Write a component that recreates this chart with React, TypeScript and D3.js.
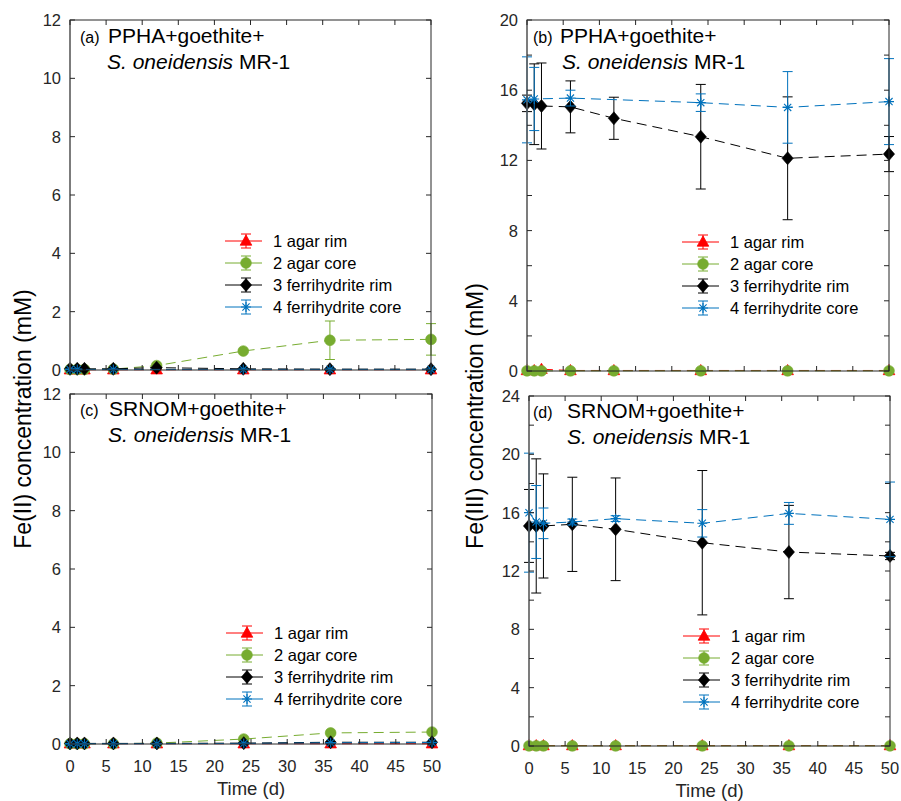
import React from "react";
import * as d3 from "d3";

// sampling days
const days = [0, 1, 2, 6, 12, 24, 36, 50];
const seriesNames = ["1 agar rim", "2 agar core", "3 ferrihydrite rim", "4 ferrihydrite core"];
const seriesColors = ["#ff0000", "#77ac30", "#000000", "#0072bd"];
const xTicks = [0, 5, 10, 15, 20, 25, 30, 35, 40, 45, 50];

// (a) Fe(II), PPHA + goethite   (null = not sampled)
const aRim = [0.01, 0.01, 0.01, 0.01, 0.01, 0.01, 0.01, 0.01];
const aRimErr = [0, 0, 0, 0, 0, 0, 0, 0];
const aCore = [0.02, 0.02, 0.02, 0.03, 0.15, 0.65, 1.02, 1.05];
const aCoreErr = [0, 0, 0, 0, 0.02, 0.03, 0.66, 0.54];
const aFhRim = [0.04, 0.04, 0.04, 0.04, 0.08, 0.04, 0.03, 0.03];
const aFhRimErr = [0.01, 0.01, 0.01, 0.01, 0.01, 0.01, 0.01, 0.01];
const aFhCore = [0.02, 0.02, null, 0.02, null, 0.02, 0.02, 0.02];
const aFhCoreErr = [0.01, 0.01, 0, 0.01, 0, 0.01, 0.01, 0.01];

// (b) Fe(III), PPHA + goethite
const bRim = [0.03, 0.03, 0.1, 0.03, 0.03, 0.03, 0.03, 0.03];
const bRimErr = [0.03, 0.03, 0.03, 0.03, 0.03, 0.03, 0.03, 0.03];
const bCore = [0.01, 0.01, 0.01, 0.01, 0.01, 0.01, 0.01, 0.01];
const bCoreErr = [0, 0, 0, 0, 0, 0, 0, 0];
const bFhRim = [15.25, 15.2, 15.1, 15.05, 14.4, 13.35, 12.12, 12.36];
const bFhRimErr = [0.47, 2.3, 2.45, 1.48, 1.2, 2.98, 3.5, 1.0];
const bFhCore = [15.45, 15.5, null, 15.55, null, 15.29, 15.02, 15.35];
const bFhCoreErr = [2.45, 1.8, 0, 0.45, 0, 0.5, 2.04, 2.45];

// (c) Fe(II), SRNOM + goethite
const cRim = [0.01, 0.01, 0.01, 0.01, 0.01, 0.01, 0.01, 0.01];
const cRimErr = [0, 0, 0, 0, 0, 0, 0, 0];
const cCore = [0.01, 0.01, 0.01, 0.01, 0.03, 0.17, 0.38, 0.41];
const cCoreErr = [0, 0, 0, 0, 0, 0.02, 0.03, 0.03];
const cFhRim = [0.02, 0.02, 0.02, 0.02, 0.02, 0.03, 0.06, 0.06];
const cFhRimErr = [0.01, 0.01, 0.01, 0.01, 0.01, 0.01, 0.01, 0.01];
const cFhCore = [0.01, 0.01, 0.01, 0.01, 0.01, 0.02, 0.04, 0.05];
const cFhCoreErr = [0.01, 0.01, 0.01, 0.01, 0.01, 0.01, 0.01, 0.01];

// (d) Fe(III), SRNOM + goethite
const dRim = [0.03, 0.03, 0.03, 0.03, 0.03, 0.03, 0.03, 0.03];
const dRimErr = [0.03, 0.03, 0.03, 0.03, 0.03, 0.03, 0.03, 0.03];
const dCore = [0.01, 0.01, 0.01, 0.01, 0.01, 0.01, 0.01, 0.01];
const dCoreErr = [0, 0, 0, 0, 0, 0, 0, 0];
const dFhRim = [15.09, 15.09, 15.09, 15.2, 14.86, 13.94, 13.3, 13.03];
const dFhRimErr = [2.5, 4.6, 3.57, 3.23, 3.52, 4.95, 3.2, 0.25];
const dFhCore = [16.0, 15.36, 15.27, 15.36, 15.59, 15.27, 15.95, 15.54];
const dFhCoreErr = [4.08, 2.5, 1.05, 0.2, 0.2, 0.94, 0.75, 2.56];

const FONT = "'Liberation Sans', Arial, Helvetica, sans-serif";
const AX = "#262626";

type Vals = (number | null)[];

type Panel = {
  tag: string;
  title: string;
  left: number; right: number; top: number; bottom: number;
  yMax: number; yLabelStep: number;
  showX: boolean;
  legX: number; legY: number;
  tagX: number; titleX: number; line2X: number; titleY: number;
  values: Vals[]; errs: number[][];
};

const panels: Panel[] = [
  {
    tag: "(a)", title: "PPHA+goethite+", left: 70, right: 431, top: 20, bottom: 370,
    yMax: 12, yLabelStep: 2, showX: false, legX: 225, legY: 241,
    tagX: 80, titleX: 108, line2X: 107, titleY: 43,
    values: [aRim, aCore, aFhRim, aFhCore], errs: [aRimErr, aCoreErr, aFhRimErr, aFhCoreErr],
  },
  {
    tag: "(b)", title: "PPHA+goethite+", left: 527, right: 889, top: 20, bottom: 371,
    yMax: 20, yLabelStep: 4, showX: false, legX: 682, legY: 242,
    tagX: 533, titleX: 560, line2X: 562, titleY: 43,
    values: [bRim, bCore, bFhRim, bFhCore], errs: [bRimErr, bCoreErr, bFhRimErr, bFhCoreErr],
  },
  {
    tag: "(c)", title: "SRNOM+goethite+", left: 70, right: 432, top: 394, bottom: 744,
    yMax: 12, yLabelStep: 2, showX: true, legX: 226, legY: 633,
    tagX: 80, titleX: 109, line2X: 108, titleY: 416,
    values: [cRim, cCore, cFhRim, cFhCore], errs: [cRimErr, cCoreErr, cFhRimErr, cFhCoreErr],
  },
  {
    tag: "(d)", title: "SRNOM+goethite+", left: 529, right: 890, top: 396, bottom: 746,
    yMax: 24, yLabelStep: 4, showX: true, legX: 683, legY: 636,
    tagX: 533, titleX: 567, line2X: 567, titleY: 418,
    values: [dRim, dCore, dFhRim, dFhCore], errs: [dRimErr, dCoreErr, dFhRimErr, dFhCoreErr],
  },
];

function Marker({ kind, x, y, color }: { kind: number; x: number; y: number; color: string }) {
  if (kind === 0) {
    return <path d={`M${x},${y - 6}L${x + 5.8},${y + 4.2}L${x - 5.8},${y + 4.2}Z`} fill={color} stroke={color} strokeWidth={0.8} />;
  }
  if (kind === 1) {
    return <circle cx={x} cy={y} r={5.4} fill={color} stroke={color} strokeWidth={0.6} />;
  }
  if (kind === 2) {
    return <path d={`M${x},${y - 6.5}L${x + 5.6},${y}L${x},${y + 6.5}L${x - 5.6},${y}Z`} fill={color} stroke={color} strokeWidth={0.6} />;
  }
  const s = 5, t = 3.6;
  return (
    <path
      d={`M${x - s},${y}H${x + s}M${x},${y - s}V${y + s}M${x - t},${y - t}L${x + t},${y + t}M${x - t},${y + t}L${x + t},${y - t}`}
      stroke={color} strokeWidth={1.1} fill="none"
    />
  );
}

function ErrorBar({ x, y1, y2, color }: { x: number; y1: number; y2: number; color: string }) {
  return (
    <g stroke={color} strokeWidth={1}>
      <line x1={x} x2={x} y1={y1} y2={y2} />
      <line x1={x - 5} x2={x + 5} y1={y1} y2={y1} />
      <line x1={x - 5} x2={x + 5} y1={y2} y2={y2} />
    </g>
  );
}

function PanelView({ p }: { p: Panel }) {
  const x = d3.scaleLinear().domain([0, 50]).range([p.left, p.right]);
  const y = d3.scaleLinear().domain([0, p.yMax]).range([p.bottom, p.top]);
  const yTicks = d3.range(0, p.yMax + 0.001, 2);
  const line = d3.line<[number, number]>().x((d) => x(d[0])).y((d) => y(d[1]));
  const tl = 5;

  return (
    <g>
      {/* series */}
      {p.values.map((vals, si) => {
        const pts = days
          .map((t, i) => [t, vals[i], p.errs[si][i]] as [number, number | null, number])
          .filter((d) => d[1] !== null) as [number, number, number][];
        return (
          <g key={si}>
            {pts.map((d, i) => (
              <ErrorBar key={i} x={x(d[0])} y1={y(d[1] + d[2])} y2={y(d[1] - d[2])} color={seriesColors[si]} />
            ))}
            <path
              d={line(pts.map((d) => [d[0], d[1]] as [number, number])) || ""}
              fill="none" stroke={seriesColors[si]} strokeWidth={1} strokeDasharray="10,6"
            />
            {pts.map((d, i) => (
              <Marker key={i} kind={si} x={x(d[0])} y={y(d[1])} color={seriesColors[si]} />
            ))}
          </g>
        );
      })}

      {/* box and ticks */}
      <rect x={p.left} y={p.top} width={p.right - p.left} height={p.bottom - p.top} fill="none" stroke={AX} strokeWidth={1} />
      <line x1={p.left} x2={p.left} y1={p.top} y2={p.bottom} stroke="#6e6e6e" strokeWidth={1.2} />
      {xTicks.map((t) => (
        <g key={"x" + t} stroke={AX} strokeWidth={1}>
          <line x1={x(t)} x2={x(t)} y1={p.bottom} y2={p.bottom - tl} />
          <line x1={x(t)} x2={x(t)} y1={p.top} y2={p.top + tl} />
        </g>
      ))}
      {yTicks.map((t) => (
        <g key={"y" + t} stroke={AX} strokeWidth={1}>
          <line x1={p.left} x2={p.left + tl} y1={y(t)} y2={y(t)} />
          <line x1={p.right} x2={p.right - tl} y1={y(t)} y2={y(t)} />
        </g>
      ))}
      {yTicks.filter((t) => t % p.yLabelStep === 0).map((t) => (
        <text key={"yl" + t} x={p.left - 9} y={y(t)} dy="0.36em" textAnchor="end" fontSize={16.5} fill={AX} fontFamily={FONT}>
          {t}
        </text>
      ))}
      {p.showX && xTicks.map((t) => (
        <text key={"xl" + t} x={x(t)} y={p.bottom + 28} textAnchor="middle" fontSize={16.5} fill={AX} fontFamily={FONT}>
          {t}
        </text>
      ))}
      {p.showX && (
        <text x={(p.left + p.right) / 2} y={p.bottom + 51} textAnchor="middle" fontSize={18.5} fill={AX} fontFamily={FONT}>
          Time (d)
        </text>
      )}

      {/* panel title */}
      <text x={p.tagX} y={p.titleY} fontSize={16} fill="#000" fontFamily={FONT}>{p.tag}</text>
      <text x={p.titleX} y={p.titleY} fontSize={21} fill="#000" fontFamily={FONT}>{p.title}</text>
      <text x={p.line2X} y={p.titleY + 26} fontSize={21} fill="#000" fontFamily={FONT}>
        <tspan fontStyle="italic">S. oneidensis</tspan>
        <tspan> MR-1</tspan>
      </text>

      {/* legend */}
      {seriesNames.map((name, si) => {
        const ly = p.legY + si * 22;
        const mx = p.legX + 21;
        return (
          <g key={name}>
            <line x1={p.legX} x2={p.legX + 37} y1={ly} y2={ly} stroke={seriesColors[si]} strokeWidth={1} />
            <ErrorBar x={mx} y1={ly - 7} y2={ly + 7} color={seriesColors[si]} />
            <Marker kind={si} x={mx} y={ly} color={seriesColors[si]} />
            <text x={p.legX + 48} y={ly} dy="0.36em" fontSize={16.5} fill="#000" fontFamily={FONT}>{name}</text>
          </g>
        );
      })}
    </g>
  );
}

export default function App() {
  return (
    <svg width={901} height={801} style={{ position: "absolute", left: 0, top: 0, background: "#fff" }}>
      <rect width={901} height={801} fill="#fff" />
      {panels.map((p) => (
        <PanelView key={p.tag} p={p} />
      ))}
      <text transform="translate(31,419) rotate(-90)" textAnchor="middle" fontSize={23} fill="#000" fontFamily={FONT}>
        Fe(II) concentration (mM)
      </text>
      <text transform="translate(483,416) rotate(-90)" textAnchor="middle" fontSize={23} fill="#000" fontFamily={FONT}>
        Fe(III) concentration (mM)
      </text>
    </svg>
  );
}
